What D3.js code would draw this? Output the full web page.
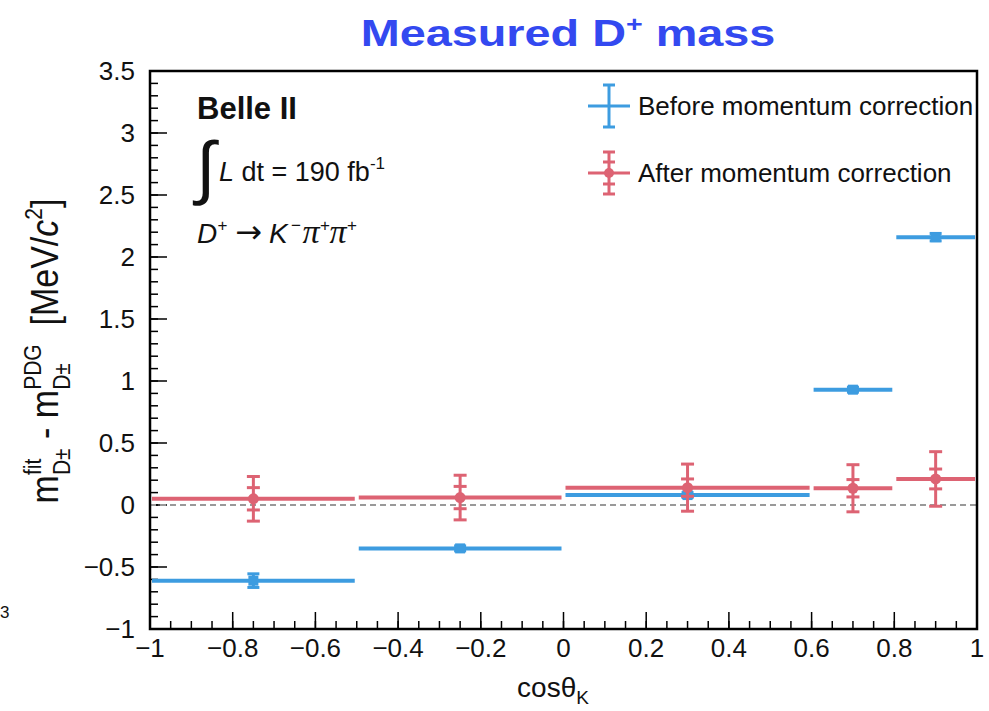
<!DOCTYPE html>
<html><head><meta charset="utf-8">
<script src="https://cdn.jsdelivr.net/npm/d3@7"></script>
<style>body{margin:0;background:#fff}svg{display:block}text{font-family:"Liberation Sans",Arial,sans-serif;white-space:pre}</style>
</head><body><svg id="c" width="989" height="711"></svg>
<script>
// ---- data ----
const binLo = [-1, -0.5, 0, 0.6, 0.8];
const binHi = [-0.5, 0, 0.6, 0.8, 1];
const binCenter = [-0.75, -0.25, 0.3, 0.7, 0.9];
const beforeVals = [-0.61, -0.35, 0.08, 0.93, 2.16];
const beforeErr = [0.055, 0.02, 0.02, 0.02, 0.03];
const afterVals = [0.05, 0.06, 0.14, 0.135, 0.21];
const afterStatErr = [0.09, 0.09, 0.07, 0.07, 0.08];
const afterTotErr = [0.18, 0.18, 0.19, 0.19, 0.22];
const xTicks = [-1, -0.8, -0.6, -0.4, -0.2, 0, 0.2, 0.4, 0.6, 0.8, 1];
const yTicks = [-1, -0.5, 0, 0.5, 1, 1.5, 2, 2.5, 3, 3.5];
const legendLabels = ["Before momentum correction", "After momentum correction"];

const BLUE = "#3d9ce0", RED = "#dd6373";
const svg = d3.select("#c");
const L = 150, R = 977, T = 71, B = 629;
const x = d3.scaleLinear().domain([-1, 1]).range([L, R]);
const y = d3.scaleLinear().domain([-1, 3.5]).range([B, T]);
const fmt = v => (v < 0 ? "\u2212" : "") + Math.abs(v);

// title
const title = svg.append("g").attr("transform", "translate(568,46) scale(1.3,1)")
  .append("text").attr("text-anchor", "middle")
  .attr("font-size", 36).attr("font-weight", "bold").attr("fill", "#3349f0");
title.append("tspan").text("Measured D");
title.append("tspan").attr("font-size", 22).attr("dy", -14).text("+");
title.append("tspan").attr("dy", 14).text(" mass");

// axes
const xMinor = d3.range(-1, 1.0001, 0.05);
const yMinor = d3.range(-1, 3.5001, 0.1);
const g = svg.append("g");
g.selectAll(".xm").data(xMinor).join("line").attr("x1", d => x(d)).attr("x2", d => x(d))
  .attr("y1", B).attr("y2", B - 8).attr("stroke", "#000").attr("stroke-width", 1.5);
g.selectAll(".xM").data(xTicks).join("line").attr("x1", d => x(d)).attr("x2", d => x(d))
  .attr("y1", B).attr("y2", B - 17).attr("stroke", "#000").attr("stroke-width", 1.5);
g.selectAll(".ym").data(yMinor).join("line").attr("y1", d => y(d)).attr("y2", d => y(d))
  .attr("x1", L).attr("x2", L + 8).attr("stroke", "#000").attr("stroke-width", 1.5);
g.selectAll(".yM").data(yTicks).join("line").attr("y1", d => y(d)).attr("y2", d => y(d))
  .attr("x1", L).attr("x2", L + 17).attr("stroke", "#000").attr("stroke-width", 1.5);
g.selectAll(".xl").data(xTicks).join("text").attr("x", d => x(d)).attr("y", 657)
  .attr("text-anchor", "middle").attr("font-size", 26).attr("fill", "#111").text(fmt);
g.selectAll(".yl").data(yTicks).join("text").attr("x", 135).attr("y", d => y(d) + 9)
  .attr("text-anchor", "end").attr("font-size", 26).attr("fill", "#111").text(fmt);

// zero line
svg.append("line").attr("x1", x(-1)).attr("x2", x(1)).attr("y1", y(0)).attr("y2", y(0))
  .attr("stroke", "#999").attr("stroke-width", 2).attr("stroke-dasharray", "6,4");

// frame
svg.append("rect").attr("x", L).attr("y", T).attr("width", R - L).attr("height", B - T)
  .attr("fill", "none").attr("stroke", "#000").attr("stroke-width", 2.5);

// series: before (blue)
const idx = d3.range(binLo.length);
const pg = svg.append("g");
pg.selectAll(".bh").data(idx).join("line")
  .attr("x1", i => x(binLo[i]) + 2).attr("x2", i => x(binHi[i]) - 2)
  .attr("y1", i => y(beforeVals[i])).attr("y2", i => y(beforeVals[i]))
  .attr("stroke", BLUE).attr("stroke-width", 4);
pg.selectAll(".bv").data(idx).join("line")
  .attr("x1", i => x(binCenter[i])).attr("x2", i => x(binCenter[i]))
  .attr("y1", i => y(beforeVals[i] - beforeErr[i])).attr("y2", i => y(beforeVals[i] + beforeErr[i]))
  .attr("stroke", BLUE).attr("stroke-width", 3);
[1, -1].forEach(s => pg.selectAll(".bc" + s).data(idx).join("line")
  .attr("x1", i => x(binCenter[i]) - 6).attr("x2", i => x(binCenter[i]) + 6)
  .attr("y1", i => y(beforeVals[i] + s * beforeErr[i])).attr("y2", i => y(beforeVals[i] + s * beforeErr[i]))
  .attr("stroke", BLUE).attr("stroke-width", 3));
pg.selectAll(".bs").data(idx).join("rect")
  .attr("x", i => x(binCenter[i]) - 5).attr("y", i => y(beforeVals[i]) - 5)
  .attr("width", 10).attr("height", 10).attr("fill", BLUE);

// series: after (red)
pg.selectAll(".ah").data(idx).join("line")
  .attr("x1", i => x(binLo[i]) + 2).attr("x2", i => x(binHi[i]) - 2)
  .attr("y1", i => y(afterVals[i])).attr("y2", i => y(afterVals[i]))
  .attr("stroke", RED).attr("stroke-width", 4);
pg.selectAll(".av").data(idx).join("line")
  .attr("x1", i => x(binCenter[i])).attr("x2", i => x(binCenter[i]))
  .attr("y1", i => y(afterVals[i] - afterTotErr[i])).attr("y2", i => y(afterVals[i] + afterTotErr[i]))
  .attr("stroke", RED).attr("stroke-width", 3);
[afterTotErr, afterStatErr].forEach((E, k) => [1, -1].forEach(s =>
  pg.selectAll(".ac" + k + s).data(idx).join("line")
    .attr("x1", i => x(binCenter[i]) - 6.5).attr("x2", i => x(binCenter[i]) + 6.5)
    .attr("y1", i => y(afterVals[i] + s * E[i])).attr("y2", i => y(afterVals[i] + s * E[i]))
    .attr("stroke", RED).attr("stroke-width", 3)));
pg.selectAll(".ad").data(idx).join("circle")
  .attr("cx", i => x(binCenter[i])).attr("cy", i => y(afterVals[i])).attr("r", 5.5).attr("fill", RED);

// legend
const lg = svg.append("g");
[[BLUE, 106, false], [RED, 173, true]].forEach(([col, cy, dbl], k) => {
  lg.append("line").attr("x1", 588).attr("x2", 630).attr("y1", cy).attr("y2", cy).attr("stroke", col).attr("stroke-width", 3);
  lg.append("line").attr("x1", 609).attr("x2", 609).attr("y1", cy - 21).attr("y2", cy + 21).attr("stroke", col).attr("stroke-width", 3);
  const caps = dbl ? [-21, -11, 11, 21] : [-21, 21];
  caps.forEach(o => lg.append("line").attr("x1", 603).attr("x2", 615).attr("y1", cy + o).attr("y2", cy + o).attr("stroke", col).attr("stroke-width", 3));
  if (dbl) lg.append("circle").attr("cx", 609).attr("cy", cy).attr("r", 5).attr("fill", col);
  lg.append("text").attr("x", 638).attr("y", cy + 9).attr("font-size", 26).attr("fill", "#111").text(legendLabels[k]);
});

// annotations
svg.append("text").attr("x", 197).attr("y", 119).attr("font-size", 31).attr("font-weight", "bold").attr("fill", "#111").text("Belle II");
svg.append("text").attr("x", 196).attr("y", 191).attr("font-size", 70).attr("font-family", "DejaVu Sans").attr("fill", "#111").text("\u222B");
const lum = svg.append("text").attr("x", 219).attr("y", 181).attr("font-size", 27).attr("fill", "#111");
lum.append("tspan").attr("font-style", "italic").text("L");
lum.append("tspan").text(" dt = 190 fb");
lum.append("tspan").attr("font-size", 17).attr("dy", -12).text("-1");
const dec = svg.append("text").attr("x", 197).attr("y", 243).attr("font-size", 28).attr("font-style", "italic").attr("fill", "#111");
dec.append("tspan").text("D");
dec.append("tspan").attr("font-size", 17).attr("dy", -12).text("+");
dec.append("tspan").attr("dy", 12).attr("dx", 8).attr("font-style", "normal").attr("font-family", "DejaVu Sans").attr("font-size", 32).text("\u2192");
dec.append("tspan").attr("dx", 7).text("K");
dec.append("tspan").attr("font-size", 17).attr("dy", -12).attr("dx", 3).text("\u2212");
dec.append("tspan").attr("dy", 12).attr("dx", 2).attr("font-family", "Liberation Serif").attr("font-size", 34).text("\u03C0");
dec.append("tspan").attr("font-size", 17).attr("dy", -12).text("+");
dec.append("tspan").attr("dy", 12).attr("font-family", "Liberation Serif").attr("font-size", 34).text("\u03C0");
dec.append("tspan").attr("font-size", 17).attr("dy", -12).text("+");

// x label
const xl = svg.append("text").attr("x", 553).attr("y", 697).attr("text-anchor", "middle").attr("font-size", 28).attr("fill", "#111");
xl.append("tspan").text("cos\u03B8");
xl.append("tspan").attr("font-size", 19).attr("dy", 7).text("K");

// y label (rotated), built piecewise
const yg = svg.append("g").attr("transform", "translate(58,351) rotate(-90) scale(1,1.15)");
let cx = 0;
function piece(txt, size, dy, opts = {}) {
  const t = yg.append("text").attr("x", cx).attr("y", dy).attr("font-size", size).attr("fill", "#111").text(txt);
  if (opts.italic) t.attr("font-style", "italic");
  return t.node().getComputedTextLength();
}
function stack(sub, sup) {
  const w1 = piece(sub, 21, 10), w2 = piece(sup, 21, -15);
  cx += Math.max(w1, w2);
}
cx += piece("m", 34, 0);
stack("D\u00B1", "fit");
cx += piece(" - m", 34, 0);
stack("D\u00B1", "PDG");
cx += piece("  [MeV/", 34, 0);
cx += piece("c", 34, 0, {italic: true});
cx += piece("2", 21, -14);
cx += piece("]", 34, 0);
yg.selectAll("text").attr("transform", `translate(${-cx / 2},0)`);

// stray cropped label at far left
svg.append("text").attr("x", 0).attr("y", 618).attr("font-size", 17).attr("fill", "#111").text("3");
</script></body></html>
